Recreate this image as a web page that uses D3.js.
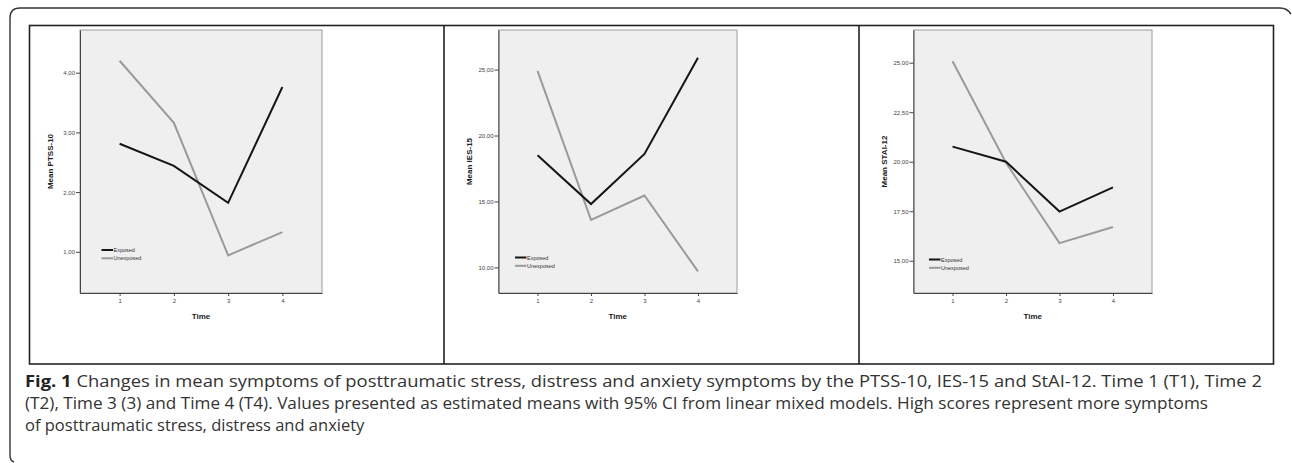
<!DOCTYPE html>
<html>
<head>
<meta charset="utf-8">
<script src="https://cdn.jsdelivr.net/npm/d3@7"></script>
<style>
  body { margin: 0; background: #fff; }
  svg { display: block; }
</style>
</head>
<body>
<div class="canvas"></div>
<script>
// Data
const timePoints = [1, 2, 3, 4];
const seriesNames = ["Exposed", "Unexposed"];

const ptssExposed = [2.81, 2.44, 1.82, 3.76];
const ptssUnexposed = [4.20, 3.16, 0.94, 1.33];
const ptssTicks = [1, 2, 3, 4];

const iesExposed = [18.5, 14.8, 18.6, 25.9];
const iesUnexposed = [24.9, 13.6, 15.45, 9.7];
const iesTicks = [10, 15, 20, 25];

const staiExposed = [20.76, 20.0, 17.48, 18.70];
const staiUnexposed = [25.07, 19.95, 15.89, 16.70];
const staiTicks = [15, 17.5, 20, 22.5, 25];

const captionLines = [
    ["Fig. 1", " Changes in mean symptoms of posttraumatic stress, distress and anxiety symptoms by the PTSS-10, IES-15 and StAI-12. Time 1 (T1), Time 2"],
    ["", "(T2), Time 3 (3) and Time 4 (T4). Values presented as estimated means with 95% CI from linear mixed models. High scores represent more symptoms"],
    ["", "of posttraumatic stress, distress and anxiety"]
];

// Panel setup (layout only)
const panels = [
    { title: "Mean PTSS-10", exposed: ptssExposed, unexposed: ptssUnexposed, ticks: ptssTicks,
      yDomain: [0.31, 4.715], x0: 80, x1: 322, legX: 101.5, legY: 250 },
    { title: "Mean IES-15", exposed: iesExposed, unexposed: iesUnexposed, ticks: iesTicks,
      yDomain: [8.06, 28.0], x0: 498.5, x1: 737, legX: 515, legY: 257.5 },
    { title: "Mean STAI-12", exposed: staiExposed, unexposed: staiUnexposed, ticks: staiTicks,
      yDomain: [13.37, 26.65], x0: 913.5, x1: 1152, legX: 929, legY: 259.5 }
];
const plotTop = 30, plotBottom = 293;
const seriesColors = { Exposed: "#151515", Unexposed: "#9a9a9a" };
const tickFmt = v => d3.format(".2f")(v).replace(".", ",");

const svg = d3.select(".canvas")
    .append("svg")
    .attr("width", 1292)
    .attr("height", 463);

// Outer rounded frame (partly cropped in the original)
svg.append("path")
    .attr("d", "M 14,462 Q 10,461 10,455 L 10,18 Q 10,8 20,8 L 1280,8 Q 1287,8 1291,14")
    .attr("fill", "none")
    .attr("stroke", "#333")
    .attr("stroke-width", 1.4);

// Figure box and panel dividers
svg.append("rect")
    .attr("x", 29.5).attr("y", 25.5)
    .attr("width", 1244).attr("height", 338.5)
    .attr("fill", "none")
    .attr("stroke", "#222")
    .attr("stroke-width", 1.6);

[444, 859].forEach(x => {
    svg.append("line")
        .attr("x1", x).attr("x2", x)
        .attr("y1", 25.5).attr("y2", 364)
        .attr("stroke", "#222")
        .attr("stroke-width", 1.6);
});

panels.forEach(p => {
    const x = d3.scaleLinear().domain([0.27, 4.73]).range([p.x0, p.x1]);
    const y = d3.scaleLinear().domain(p.yDomain).range([plotBottom, plotTop]);
    const g = svg.append("g");

    // plot background
    g.append("rect")
        .attr("x", p.x0).attr("y", plotTop)
        .attr("width", p.x1 - p.x0).attr("height", plotBottom - plotTop)
        .attr("fill", "#efefef")
        .attr("stroke", "#9c9c9c")
        .attr("stroke-width", 1);

    // y axis
    const yAxis = g.append("g")
        .attr("transform", `translate(${p.x0},0)`)
        .call(d3.axisLeft(y).tickValues(p.ticks).tickFormat(tickFmt).tickSize(4).tickSizeOuter(0));
    yAxis.select(".domain").attr("stroke", "#444");
    yAxis.selectAll(".tick line").attr("stroke", "#444");
    yAxis.selectAll("text")
        .attr("font-family", "Arial, 'Liberation Sans', sans-serif")
        .attr("font-size", 6)
        .attr("fill", "#444")
        .attr("x", -5);

    // x axis
    const xAxis = g.append("g")
        .attr("transform", `translate(0,${plotBottom})`)
        .call(d3.axisBottom(x).tickValues(timePoints).tickFormat(d3.format("d")).tickSize(3).tickSizeOuter(0));
    xAxis.select(".domain").attr("stroke", "#444");
    xAxis.selectAll(".tick line").attr("stroke", "#444");
    xAxis.selectAll("text")
        .attr("font-family", "Arial, 'Liberation Sans', sans-serif")
        .attr("font-size", 6)
        .attr("fill", "#444")
        .attr("y", 6);

    // axis titles
    g.append("text")
        .attr("transform", `translate(${p.x0 - 27},${(plotTop + plotBottom) / 2}) rotate(-90)`)
        .attr("text-anchor", "middle")
        .attr("font-family", "Arial, 'Liberation Sans', sans-serif")
        .attr("font-weight", "bold")
        .attr("font-size", 8)
        .attr("fill", "#222")
        .text(p.title);

    g.append("text")
        .attr("x", (p.x0 + p.x1) / 2)
        .attr("y", plotBottom + 26)
        .attr("text-anchor", "middle")
        .attr("font-family", "Arial, 'Liberation Sans', sans-serif")
        .attr("font-weight", "bold")
        .attr("font-size", 8)
        .attr("fill", "#222")
        .text("Time");

    // lines
    const line = d3.line()
        .x((d, i) => x(timePoints[i]))
        .y(d => y(d));

    [["Unexposed", p.unexposed], ["Exposed", p.exposed]].forEach(([name, vals]) => {
        g.append("path")
            .datum(vals)
            .attr("d", line)
            .attr("fill", "none")
            .attr("stroke", seriesColors[name])
            .attr("stroke-width", 2)
            .attr("stroke-linejoin", "miter");
    });

    // legend
    seriesNames.forEach((name, i) => {
        const ly = p.legY + i * 8.3;
        g.append("line")
            .attr("x1", p.legX).attr("x2", p.legX + 11.5)
            .attr("y1", ly).attr("y2", ly)
            .attr("stroke", seriesColors[name])
            .attr("stroke-width", 2);
        g.append("text")
            .attr("x", p.legX + 12)
            .attr("y", ly + 2)
            .attr("font-family", "Arial, 'Liberation Sans', sans-serif")
            .attr("font-size", 5.5)
            .attr("fill", "#333")
            .text(name);
    });
});

// Caption
const captionWidths = [1237, 1183, null];
captionLines.forEach((parts, i) => {
    const t = svg.append("text")
        .attr("x", 25)
        .attr("y", 387 + i * 22)
        .attr("font-family", "'Open Sans', 'Noto Sans', sans-serif")
        .attr("font-size", 16.5)
        .attr("fill", "#333");
    if (captionWidths[i]) t.attr("textLength", captionWidths[i]).attr("lengthAdjust", "spacingAndGlyphs");
    if (parts[0]) t.append("tspan").attr("font-weight", "bold").attr("fill", "#222").text(parts[0]);
    t.append("tspan").text(parts[1]);
});
</script>
</body>
</html>
